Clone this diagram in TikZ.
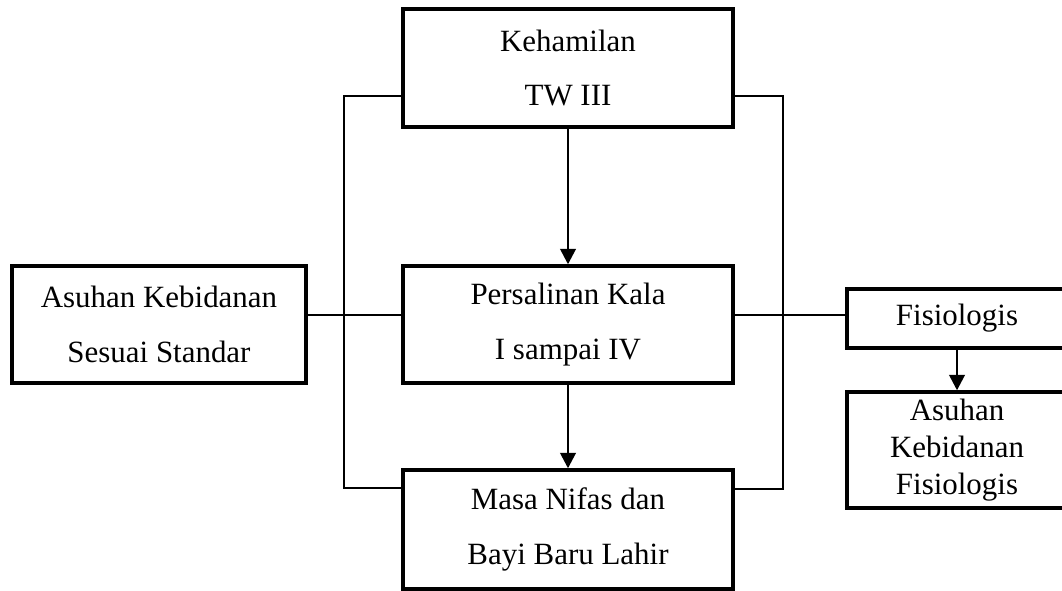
\documentclass[tikz,border=0pt]{standalone}
\usepackage{fontspec}
\setmainfont{Liberation Serif}
\usetikzlibrary{arrows.meta}

\begin{document}
\begin{tikzpicture}[x=0.025cm, y=-0.025cm,
    box/.style={draw, line width=2.4pt, inner sep=0pt, align=center, font=\fontsize{22}{39}\selectfont},
    link/.style={line width=1.9pt},
    arr/.style={line width=1.9pt, -{Triangle[length=11pt, width=11pt]}}]

	\useasboundingbox (0,0) rectangle (1062,590);

	\node[box, minimum width=8.25cm, minimum height=2.95cm] (keh) at (568,68) {Kehamilan\\TW III};
	\node[box, minimum width=8.25cm, minimum height=2.925cm] (salin) at (568,324.5) {Persalinan Kala\\I sampai IV};
	\node[box, minimum width=8.25cm, minimum height=2.975cm] (nifas) at (568,529.5) {Masa Nifas dan\\Bayi Baru Lahir};
	\node[box, minimum width=7.35cm, minimum height=2.925cm] (asuhan) at (159,324.5) {Asuhan Kebidanan\\Sesuai Standar};
	\node[box, minimum width=5.5cm, minimum height=1.475cm] (fis) at (957,318.5) {Fisiologis};
	\node[box, minimum width=5.5cm, minimum height=2.9cm, font=\fontsize{22}{26.5}\selectfont] (asfis) at (957,450) {Asuhan\\Kebidanan\\Fisiologis};

	\coordinate (kiriA) at (344,96);
	\coordinate (kiriB) at (344,488);
	\coordinate (kananA) at (783,96);
	\coordinate (kananB) at (783,489);
	\coordinate (tengah) at (0,315);

	\draw[link] (keh.west |- kiriA) -- (kiriA) -- (kiriB) -- (nifas.west |- kiriB);
	\draw[link] (keh.east |- kananA) -- (kananA) -- (kananB) -- (nifas.east |- kananB);
	\draw[link] (asuhan.east |- tengah) -- (salin.west |- tengah);
	\draw[link] (salin.east |- tengah) -- (fis.west |- tengah);

	\draw[arr] (keh) -- (salin);
	\draw[arr] (salin) -- (nifas);
	\draw[arr] (fis) -- (asfis);
\end{tikzpicture}
\end{document}
